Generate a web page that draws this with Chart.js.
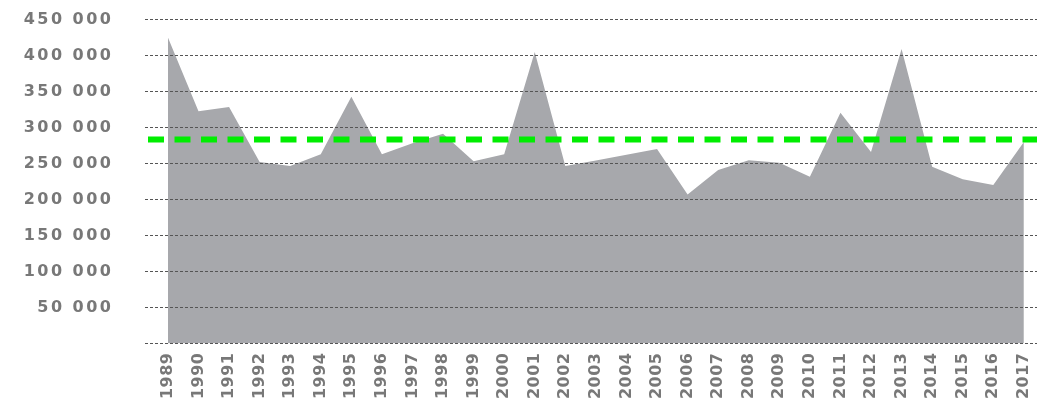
<!DOCTYPE html>
<html>
<head>
<meta charset="utf-8">
<script src="https://cdn.jsdelivr.net/npm/chart.js@4/dist/chart.umd.min.js"></script>
<style>
  html, body { margin: 0; padding: 0; background: #fff; }
  canvas { display: block; }
</style>
</head>
<body>
<canvas id="myChart" width="1060" height="403"></canvas>
<script>
// années et valeurs
const annees = [1989, 1990, 1991, 1992, 1993, 1994, 1995, 1996, 1997, 1998,
                1999, 2000, 2001, 2002, 2003, 2004, 2005, 2006, 2007, 2008,
                2009, 2010, 2011, 2012, 2013, 2014, 2015, 2016, 2017];
const valeurs = [425000, 322500, 328500, 252000, 246500, 262800, 342800, 262800, 278000, 291400,
                 253000, 263000, 405000, 246500, 254000, 262000, 270000, 207000, 241000, 254400,
                 251000, 231700, 320600, 266000, 409000, 245600, 228000, 220000, 280000];
const moyenne = 283500;
const yTicks = [0, 50000, 100000, 150000, 200000, 250000, 300000, 350000, 400000, 450000];

// bornes de l'axe des années (un peu de marge à gauche)
const xMin = 1988.25;
const xMax = 2017.43;

function formatNombre(v) {
    return String(v).replace(/\B(?=(\d{3})+(?!\d))/g, ' ');
}

// espacement des lettres : années (dessinées avant les données) puis montants
const espacement = {
    id: 'espacement',
    beforeDraw(chart) { chart.ctx.letterSpacing = '0.5px'; },
    afterDatasetsDraw(chart) { chart.ctx.letterSpacing = '2.5px'; },
    afterDraw(chart) { chart.ctx.letterSpacing = '0px'; }
};

const ctx = document.getElementById('myChart').getContext('2d');
new Chart(ctx, {
    type: 'line',
    data: {
        datasets: [{
            label: 'Valeur',
            data: annees.map((a, i) => ({ x: a, y: valeurs[i] })),
            backgroundColor: '#a7a8ac',
            borderWidth: 0,
            pointRadius: 0,
            fill: 'origin',
            tension: 0,
            order: 2
        }, {
            label: 'Moyenne',
            data: [{ x: xMin, y: moyenne }, { x: xMax, y: moyenne }],
            borderColor: '#00ee00',
            borderWidth: 6,
            borderDash: [16, 10.5],
            borderDashOffset: -3,
            pointRadius: 0,
            fill: false,
            order: 1
        }]
    },
    options: {
        responsive: false,
        animation: false,
        layout: { padding: { top: 19.5, right: 23, left: 0, bottom: 0 } },
        plugins: {
            legend: { display: false },
            tooltip: { enabled: false }
        },
        scales: {
            x: {
                type: 'linear',
                min: xMin,
                max: xMax,
                grid: { display: false, drawTicks: false },
                border: { display: false },
                afterFit: s => { s.height = 59.5; },
                ticks: {
                    z: 0,
                    stepSize: 1,
                    autoSkip: false,
                    includeBounds: false,
                    minRotation: 90,
                    maxRotation: 90,
                    padding: 9,
                    color: '#787878',
                    font: { family: 'DejaVu Sans', size: 16, weight: 'bold' },
                    callback: v => annees.includes(v) ? String(v) : ''
                }
            },
            y: {
                min: 0,
                max: 450000,
                afterFit: s => { s.width = 145; s.paddingTop = 0; s.paddingBottom = 0; },
                afterBuildTicks: s => { s.ticks = yTicks.map(v => ({ value: v })); },
                grid: { color: '#555', lineWidth: 1, drawTicks: false, z: 1 },
                border: { display: false, dash: [3, 2] },
                ticks: {
                    z: 2,
                    padding: 31.5,
                    color: '#787878',
                    font: { family: 'DejaVu Sans', size: 16, weight: 'bold' },
                    callback: v => v === 0 ? '' : formatNombre(v)
                }
            }
        }
    },
    plugins: [espacement]
});
</script>
</body>
</html>
